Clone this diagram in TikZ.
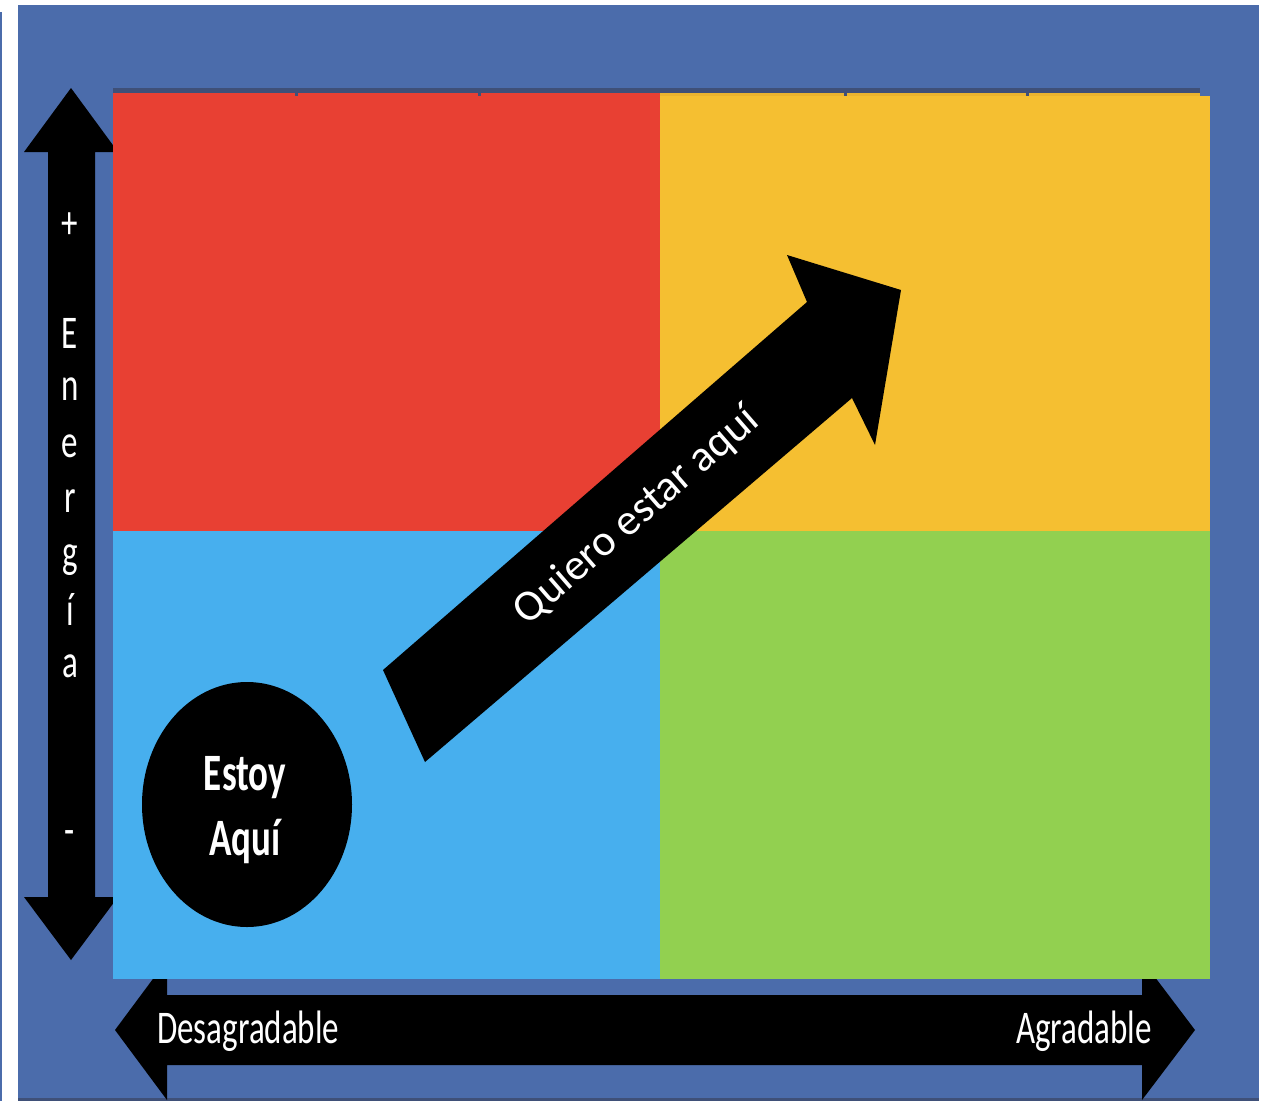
\documentclass[tikz,border=0pt]{standalone}
\usepackage{fontspec}
\setmainfont{Carlito}
\usetikzlibrary{shapes.geometric}
\definecolor{bgblue}{HTML}{4B6CAB}
\definecolor{darkband}{HTML}{3F5078}
\definecolor{qred}{HTML}{E84033}
\definecolor{qyellow}{HTML}{F5BF31}
\definecolor{qyellowd}{HTML}{EBB42F}
\definecolor{qblue}{HTML}{47AFEE}
\definecolor{qgreen}{HTML}{92D050}
\newcommand{\vstr}[1]{\scalebox{1}[1.42]{#1}}
\begin{document}
\begin{tikzpicture}[x=1pt,y=-1pt,
  lbl/.style={text=white, inner sep=0pt, font=\fontsize{33}{40}\selectfont},
  bold lbl/.style={text=white, inner sep=0pt, font=\fontsize{37}{44}\selectfont\bfseries},
  quad/.style={draw=none}]
\useasboundingbox (0,0) rectangle (1266,1101);
\fill[white] (0,0) rectangle (1266,1101);
\fill[bgblue] (0,12) rectangle (1.5,1101);
\fill[bgblue] (18,5) rectangle (1259,1101);
\fill[darkband] (18,1098) rectangle (1259,1101);
% axis arrows (drawn below the quadrants)
\fill[black] (71,88) -- (118,152) -- (95,152) -- (95,897) -- (118,897) -- (71,960)
  -- (24,897) -- (48,897) -- (48,152) -- (24,152) -- cycle;
\fill[black] (115,1030) -- (167,960) -- (167,995) -- (1142,995) -- (1142,960) -- (1195,1030)
  -- (1142,1100) -- (1142,1065) -- (167,1065) -- (167,1100) -- cycle;
% quadrants
\fill[darkband] (113,88) rectangle (1200,93);
\fill[qred] (113,93) rectangle (660,531);
\fill[qyellowd] (660,93) rectangle (1200,96);
\fill[qyellow] (660,96) rectangle (1210,531);
\fill[qblue] (113,531) rectangle (660,979);
\fill[qgreen] (660,531) rectangle (1210,979);
\foreach \x in {296,479,845,1027} \fill[darkband] (\x-1.5,93) rectangle (\x+1.5,96);
% diagonal arrow
\fill[black] (383,670) -- (807,302) -- (787,255) -- (901,290) -- (875,445) -- (852,398)
  -- (425,762) -- cycle;
\node[lbl, font=\fontsize{44}{52}\selectfont, rotate=41] (quiero) at (637,516) {Quiero estar aquí};
% circle
\node[ellipse, fill=black, minimum width=210pt, minimum height=245pt, inner sep=0pt] (here) at (247,804.5) {};
\node[bold lbl, anchor=base] (estoy) at (245,790) {\vstr{Estoy}};
\node[bold lbl, anchor=base] (aqui) at (245,855) {\vstr{Aquí}};
% vertical axis labels
\node[lbl] (plus) at (70,226) {\vstr{+}};
\node[lbl] (minus) at (70,838) {\vstr{-}};
\foreach \ch/\yy in {E/348, n/400, e/457, r/512, g/567, í/625, a/677}
  \node[lbl, anchor=base] (en\yy) at (70,\yy) {\vstr{\ch}};
% horizontal axis labels
\node[lbl, anchor=base west] (desag) at (157,1043) {\vstr{Desagradable}};
\node[lbl, anchor=base east] (agrad) at (1152,1043) {\vstr{Agradable}};
\end{tikzpicture}
\end{document}
